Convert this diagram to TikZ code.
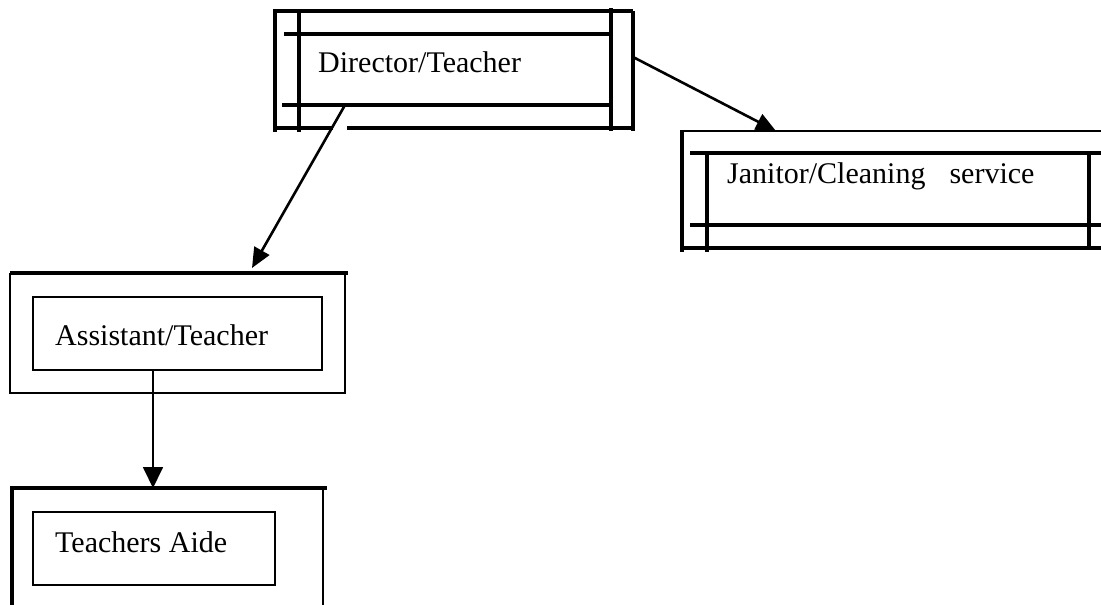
\documentclass[tikz,border=0pt]{standalone}
\usepackage{fontspec}
\setmainfont{Liberation Serif}
\usetikzlibrary{arrows.meta}
\begin{document}
\begin{tikzpicture}[x=1pt,y=-1pt,
  thickln/.style={line width=3.4pt},
  thinln/.style={line width=1.6pt},
  innerbox/.style={draw,line width=2pt},
  lbl/.style={anchor=base west,inner sep=0pt,font=\fontsize{30}{34}\selectfont},
  conn/.style={line width=2.6pt,-{Triangle[length=20pt,width=17pt]}}]
\useasboundingbox (0,0) rectangle (1101,605);
% ---- Director/Teacher frame
\draw[thickln] (273,11) -- (633,11);
\draw[thickln] (275,9) -- (275,132);
\draw[thickln] (299,9) -- (299,132);
\draw[thickln] (284,34) -- (611,34);
\draw[thickln] (282,105) -- (611,105);
\draw[thickln] (273,128) -- (333,128);
\draw[thickln] (347,128) -- (633,128);
\draw[thickln] (611,8) -- (611,131);
\draw[thickln] (633,11) -- (633,131);
\node[lbl] (dir) at (318,72) {Director/Teacher};
% ---- Janitor frame
\draw[thinln] (680,131) -- (1101,131);
\draw[thickln] (682,130) -- (682,252);
\draw[thickln] (690,153) -- (1101,153);
\draw[thickln] (707,153) -- (707,252);
\draw[thickln] (690,225) -- (1101,225);
\draw[thickln] (682,248) -- (1101,248);
\draw[thickln] (1089,153) -- (1089,248);
\node[lbl] (jan) at (727,183) {Janitor/Cleaning\hspace{24pt}service};
% ---- Assistant frame
\draw[thickln] (10,273) -- (348,273);
\draw[thinln] (10,273) -- (10,393) -- (345,393) -- (345,273);
\node[innerbox,minimum width=289pt,minimum height=73pt,inner sep=0pt] (asstbox) at (177.5,333.5) {};
\node[lbl] (asst) at (55,345) {Assistant/Teacher};
% ---- Teachers Aide frame
\draw[thickln] (10,488) -- (327,488);
\draw[thickln] (12,487) -- (12,605);
\draw[line width=2.6pt] (323,487) -- (323,605);
\node[innerbox,minimum width=242pt,minimum height=73pt,inner sep=0pt] (aidebox) at (154,548.5) {};
\node[lbl] (aide) at (55,552) {Teachers Aide};
% ---- connector end points
\coordinate (d1) at (345,105);
\coordinate (a1) at (252,268);
\coordinate (d2) at (633,57);
\coordinate (j1) at (776,131);
\coordinate (s1) at (153,370);
\coordinate (t1) at (153,488);
\draw[conn] (d1) -- (a1);
\draw[conn] (d2) -- (j1);
\draw[line width=1.8pt,-{Triangle[length=21pt,width=20pt]}] (s1) -- (t1);
\end{tikzpicture}
\end{document}
